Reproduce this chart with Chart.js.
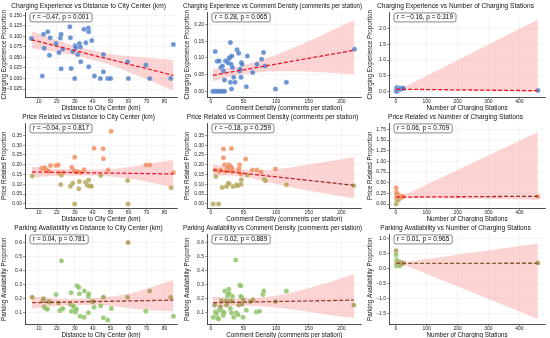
<!DOCTYPE html>
<html>
<head>
<meta charset="utf-8">
<script src="https://cdn.jsdelivr.net/npm/chart.js@4.4.1/dist/chart.umd.min.js"></script>
<style>
  html, body { margin: 0; padding: 0; background: #fff; }
  #grid { display: grid; grid-template-columns: 183px 183px 184px; grid-template-rows: 111px 111px 116px; width: 550px; height: 338px; }
  .cell canvas { display: block; }
</style>
</head>
<body>
<div id="grid">
  <div class="cell"><canvas id="c11" width="183" height="111"></canvas></div>
  <div class="cell"><canvas id="c12" width="183" height="111"></canvas></div>
  <div class="cell"><canvas id="c13" width="184" height="111"></canvas></div>
  <div class="cell"><canvas id="c21" width="183" height="111"></canvas></div>
  <div class="cell"><canvas id="c22" width="183" height="111"></canvas></div>
  <div class="cell"><canvas id="c23" width="184" height="111"></canvas></div>
  <div class="cell"><canvas id="c31" width="183" height="116"></canvas></div>
  <div class="cell"><canvas id="c32" width="183" height="116"></canvas></div>
  <div class="cell"><canvas id="c33" width="184" height="116"></canvas></div>
</div>
<script>
// ---- data ----
// Row 1: Charging Experience
const expDistX = [5.9, 11.9, 12.6, 13.0, 15.0, 16.3, 15.9, 19.6, 21.3, 22.4, 22.0, 22.4, 23.4, 27.3, 27.6, 28.0, 28.9, 30.2, 30.6, 30.0, 31.7, 32.6, 33.2, 33.4, 35.2, 36.2, 37.6, 37.8, 37.8, 39.5, 41.0, 44.3, 46.0, 46.0, 48.4, 50.0, 59.5, 59.9, 69.7, 71.8, 83.5, 85.0];
const expDistY = [0.095, 0.006, 0.105, 0.072, 0.111, 0.097, 0.055, 0.083, 0.062, 0.105, 0.096, 0.023, 0.070, 0.123, 0.097, 0.024, 0.064, 0.078, 0.073, 0.000, 0.057, 0.083, 0.075, 0.040, 0.117, 0.085, 0.120, 0.111, 0.028, 0.090, 0.006, 0.000, 0.057, 0.016, 0.000, 0.000, 0.040, 0.000, 0.032, 0.000, 0.000, 0.081];
const expDistFitX = [5.9, 85];
const expDistFitY = [0.092, 0.0075];
const expDistBandX = [6, 20, 35, 50, 65, 85];
const expDistBandHi = [0.113, 0.091, 0.072, 0.058, 0.051, 0.044];
const expDistBandLo = [0.071, 0.063, 0.050, 0.032, 0.007, -0.029];

const expDensX = [3, 5, 7, 9, 11, 13, 15, 18, 21, 6.6, 9.6, 12.7, 15.2, 17.8, 19.3, 20.8, 22.3, 24.4, 26.4, 27.9, 28.9, 29.9, 31, 32, 33, 35, 29.9, 37, 31.5, 40, 42.6, 44, 44.7, 46, 46.7, 47.7, 54.3, 55.8, 64, 70.6, 77.7, 80.7, 83.2, 99, 115.7, 220];
const expDensY = [0, 0, 0, 0, 0, 0, 0, 0, 0, 0.119, 0.090, 0.091, 0.071, 0.076, 0.061, 0.034, 0.091, 0.090, 0.085, 0.098, 0.101, 0.146, 0.081, 0.106, 0.071, 0.042, 0.027, 0.027, 0.007, 0.124, 0.114, 0.061, 0.066, 0.042, 0.086, 0.081, 0.014, 0.106, 0.056, 0.081, 0.096, 0.116, 0.076, 0.007, 0.027, 0.126];
const expDensFitX = [3, 220];
const expDensFitY = [0.048, 0.123];
const expDensBandX = [3, 40, 80, 120, 170, 220];
const expDensBandHi = [0.068, 0.073, 0.095, 0.125, 0.168, 0.213];
const expDensBandLo = [0.030, 0.049, 0.058, 0.060, 0.057, 0.051];

const expStatX = [1, 2, 2, 3, 4, 5, 5, 6, 8, 10, 12, 15, 18, 20, 22, 25, 460];
const expStatY = [0.0, 0.10, 0.05, 0.12, 0.0, 0.08, 0.03, 0.11, 0.06, 0.09, 0.10, 0.07, 0.11, 0.08, 0.10, 0.09, 0.03];
const expStatFitX = [1, 460];
const expStatFitY = [0.068, 0.022];
const expStatBandX = [1, 25, 460];
const expStatBandHi = [0.10, 0.12, 2.29];
const expStatBandLo = [0.04, 0.05, -0.01];

// Row 2: Price Related
const priceDistX = [6.3, 11.5, 12.6, 13.3, 14.1, 14.8, 15.6, 16.5, 19.6, 20.8, 21.1, 22.2, 22.6, 23.5, 27.6, 28.4, 28.9, 29.5, 30.0, 30.0, 30.8, 31.6, 32.3, 32.6, 33.5, 35.2, 36.0, 37.0, 37.8, 38.2, 39.3, 40.8, 44.5, 45.8, 46.0, 48.6, 50.3, 59.5, 59.7, 69.7, 71.8, 83.7, 85.0];
const priceDistY = [0.143, 0.182, 0.179, 0.184, 0.175, 0.170, 0.165, 0.196, 0.196, 0.199, 0.158, 0.099, 0.148, 0.160, 0.090, 0.187, 0.105, 0.170, 0.238, 0.000, 0.162, 0.165, 0.077, 0.114, 0.160, 0.175, 0.110, 0.095, 0.122, 0.092, 0.090, 0.284, 0.145, 0.281, 0.230, 0.173, 0.371, 0.119, 0.000, 0.199, 0.199, 0.083, 0.160];
const priceDistFitX = [6.3, 85];
const priceDistFitY = [0.163, 0.153];
const priceDistBandX = [6, 20, 35, 50, 65, 85];
const priceDistBandHi = [0.190, 0.178, 0.174, 0.178, 0.195, 0.226];
const priceDistBandLo = [0.135, 0.144, 0.145, 0.140, 0.122, 0.085];

const priceDensX = [3.5, 11.7, 6.6, 7.6, 12.7, 15.2, 17.3, 19.3, 19.3, 20.8, 21.8, 23.9, 26.4, 27.9, 27.0, 29.0, 30.5, 31.5, 31.0, 32.5, 33.0, 34.0, 39.0, 41.0, 44.0, 45.7, 46.7, 46.0, 53.3, 55.8, 63.5, 70.6, 77.0, 81.7, 83.8, 99.0, 115.7, 219.0, 42.0, 43.0, 28.0, 25.0];
const priceDensY = [0.000, 0.000, 0.173, 0.140, 0.165, 0.173, 0.084, 0.280, 0.236, 0.200, 0.165, 0.089, 0.106, 0.103, 0.200, 0.195, 0.190, 0.283, 0.173, 0.181, 0.165, 0.089, 0.098, 0.093, 0.200, 0.153, 0.123, 0.100, 0.229, 0.148, 0.173, 0.173, 0.163, 0.126, 0.118, 0.178, 0.098, 0.093, 0.165, 0.180, 0.170, 0.185];
const priceDensFitX = [3.5, 219];
const priceDensFitY = [0.173, 0.095];
const priceDensBandX = [3, 40, 80, 130, 175, 220];
const priceDensBandHi = [0.203, 0.178, 0.172, 0.190, 0.215, 0.240];
const priceDensBandLo = [0.143, 0.143, 0.118, 0.080, 0.053, 0.027];

const priceStatX = [1, 1, 2, 2, 3, 3, 4, 5, 6, 7, 8, 10, 12, 15, 18, 20, 24, 460];
const priceStatY = [0.0, 0.38, 0.15, 0.28, 0.10, 0.20, 0.24, 0.17, 0.12, 0.18, 0.09, 0.16, 0.20, 0.14, 0.17, 0.16, 0.18, 0.175];
const priceStatFitX = [1, 460];
const priceStatFitY = [0.162, 0.182];
const priceStatBandX = [1, 25, 460];
const priceStatBandHi = [0.20, 0.20, 1.69];
const priceStatBandLo = [0.12, 0.14, 0.10];

// Row 3: Parking Availability
const parkDistX = [6.3, 12.2, 12.6, 13.0, 13.7, 14.8, 16.3, 15.5, 19.6, 21.1, 21.7, 22.6, 22.6, 23.4, 27.6, 28.0, 28.2, 28.9, 29.5, 30.0, 30.4, 31.0, 31.3, 32.3, 32.6, 33.0, 35.2, 35.4, 37.6, 37.8, 37.6, 39.3, 40.3, 40.8, 44.5, 46.0, 46.0, 48.4, 50.4, 59.7, 59.5, 69.6, 71.8, 83.5, 85.0];
const parkDistY = [0.210, 0.185, 0.200, 0.143, 0.130, 0.125, 0.175, 0.180, 0.230, 0.170, 0.115, 0.470, 0.125, 0.130, 0.160, 0.243, 0.110, 0.150, 0.145, 0.118, 0.105, 0.125, 0.293, 0.280, 0.235, 0.075, 0.068, 0.255, 0.218, 0.235, 0.100, 0.180, 0.180, 0.140, 0.150, 0.210, 0.065, 0.048, 0.130, 0.600, 0.210, 0.110, 0.255, 0.210, 0.075];
const parkDistFitX = [6.3, 85];
const parkDistFitY = [0.172, 0.190];
const parkDistBandX = [6, 20, 35, 50, 65, 85];
const parkDistBandHi = [0.215, 0.200, 0.200, 0.215, 0.250, 0.335];
const parkDistBandLo = [0.128, 0.148, 0.155, 0.148, 0.125, 0.110];

const parkDensX = [3.5, 5.6, 6.6, 8.6, 10, 11.7, 12.7, 14.7, 16.2, 17.8, 18.8, 20.3, 21.3, 22.8, 23.9, 25.4, 26.4, 27.4, 27.9, 28.9, 29.9, 31.5, 32, 33, 35, 38, 39, 41.6, 42.6, 44, 45.7, 45.7, 46.7, 47.7, 49.2, 50, 54.3, 60.4, 64.5, 69.5, 74.6, 79.7, 81, 99, 115.7, 219];
const parkDensY = [0.068, 0.155, 0.105, 0.093, 0.063, 0.055, 0.118, 0.143, 0.185, 0.110, 0.080, 0.100, 0.255, 0.185, 0.155, 0.218, 0.230, 0.268, 0.238, 0.180, 0.130, 0.100, 0.185, 0.218, 0.068, 0.475, 0.100, 0.085, 0.155, 0.298, 0.293, 0.218, 0.210, 0.160, 0.068, 0.193, 0.118, 0.180, 0.193, 0.105, 0.110, 0.230, 0.255, 0.180, 0.255, 0.155];
const parkDensFitX = [3.5, 219];
const parkDensFitY = [0.172, 0.190];
const parkDensBandX = [3, 40, 80, 130, 175, 220];
const parkDensBandHi = [0.215, 0.200, 0.210, 0.250, 0.310, 0.375];
const parkDensBandLo = [0.135, 0.150, 0.145, 0.120, 0.090, 0.062];

const parkStatX = [1, 1, 2, 3, 3, 4, 5, 6, 8, 10, 12, 15, 18, 20, 25, 460];
const parkStatY = [0.60, 0.47, 0.10, 0.30, 0.20, 0.15, 0.25, 0.12, 0.18, 0.20, 0.10, 0.22, 0.15, 0.17, 0.19, 0.19];
const parkStatFitX = [1, 460];
const parkStatFitY = [0.180, 0.185];
const parkStatBandX = [1, 25, 460];
const parkStatBandHi = [0.25, 0.22, 0.85];
const parkStatBandLo = [0.12, 0.14, -1.68];

// tick labels
const distTicks = [10, 20, 30, 40, 50, 60, 70, 80];
const densTicks = [0, 50, 100, 150, 200];
const statTicks = [0, 100, 200, 300, 400];
const expDistYTicks = [-0.025, 0, 0.025, 0.05, 0.075, 0.1, 0.125, 0.15];
const expDensYTicks = [0, 0.05, 0.1, 0.15, 0.2];
const expStatYTicks = [0, 0.5, 1, 1.5, 2];
const priceYTicks = [0, 0.05, 0.1, 0.15, 0.2, 0.25, 0.3, 0.35];
const priceStatYTicks = [0, 0.25, 0.5, 0.75, 1, 1.25, 1.5, 1.75];
const parkYTicks = [0.1, 0.2, 0.3, 0.4, 0.5, 0.6];
const parkStatYTicks = [-1.5, -1, -0.5, 0, 0.5, 1];

const FONT = '"Liberation Sans", Arial, sans-serif';
const BLUE = 'rgba(72,122,200,0.8)';
const ORANGE = 'rgba(240,132,82,0.78)';
const OLIVE = 'rgba(178,162,82,0.82)';
const GREEN = 'rgba(138,192,98,0.82)';
const OLIVE_BROWN = 'rgba(168,150,84,0.85)';

function xy(xs, ys) {
    return xs.map((x, i) => ({ x: x, y: ys[i] }));
}

function fmt(v, dec) {
    return v.toFixed(dec).replace('-', '\u2212');
}

function bandAt(xs, ys, x) {
    for (let i = 0; i < xs.length - 1; i++) {
        if (x <= xs[i + 1]) {
            const t = (x - xs[i]) / (xs[i + 1] - xs[i]);
            return ys[i] + t * (ys[i + 1] - ys[i]);
        }
    }
    return ys[ys.length - 1];
}

// text box with r and p
const statBox = {
    id: 'statBox',
    afterDraw(chart, args, opts) {
        const ctx = chart.ctx, a = chart.chartArea;
        ctx.save();
        ctx.font = '6.4px ' + FONT;
        const w = ctx.measureText(opts.text).width + 6;
        const x = a.left + 5, y = a.top + 0.5, h = 9;
        ctx.beginPath();
        ctx.roundRect(x, y, w, h, 2);
        ctx.fillStyle = 'rgba(255,255,255,0.85)';
        ctx.fill();
        ctx.lineWidth = 0.7;
        ctx.strokeStyle = '#555';
        ctx.stroke();
        ctx.fillStyle = '#000';
        ctx.textBaseline = 'middle';
        ctx.fillText(opts.text, x + 3, y + h / 2 + 0.3);
        ctx.restore();
    }
};

function makePanel(id, p) {
    const ctx = document.getElementById(id).getContext('2d');
    let lineColor = p.lineColor;
    if (p.lineColor2) {
        lineColor = function(c) {
            const a = c.chart.chartArea;
            if (!a) return p.lineColor;
            const g = c.chart.ctx.createLinearGradient(a.left, 0, a.right, 0);
            g.addColorStop(0, p.lineColor);
            g.addColorStop(0.35, p.lineColor);
            g.addColorStop(1, p.lineColor2);
            return g;
        };
    }
    new Chart(ctx, {
        type: 'scatter',
        data: {
            datasets: [
                {
                    type: 'line',
                    data: xy(p.fitX, p.fitY),
                    borderColor: lineColor,
                    borderWidth: 1.3,
                    borderDash: [4, 2],
                    pointRadius: 0,
                    fill: false,
                    order: 0
                },
                {
                    data: xy(p.x, p.y),
                    backgroundColor: c => p.color(c.raw),
                    borderColor: 'rgba(255,255,255,0.5)',
                    borderWidth: 0.4,
                    pointRadius: 2.5,
                    order: 1
                },
                {
                    type: 'line',
                    data: xy(p.bandX, p.bandHi),
                    borderColor: 'transparent',
                    backgroundColor: 'rgba(245,120,120,0.32)',
                    pointRadius: 0,
                    tension: p.tension,
                    fill: '+1',
                    order: 2
                },
                {
                    type: 'line',
                    data: xy(p.bandX, p.bandLo),
                    borderColor: 'transparent',
                    pointRadius: 0,
                    tension: p.tension,
                    fill: false,
                    order: 3
                }
            ]
        },
        options: {
            responsive: false,
            animation: false,
            layout: { padding: { left: 0, right: p.padR, top: 0, bottom: 0 } },
            plugins: {
                legend: { display: false },
                tooltip: { enabled: false },
                title: {
                    display: true,
                    text: p.title,
                    color: '#111',
                    font: { size: 6.6, family: FONT, weight: 'normal', lineHeight: 1.2 },
                    padding: { top: 2, bottom: 2.5 }
                },
                statBox: { text: p.stat }
            },
            scales: {
                x: {
                    type: 'linear',
                    min: p.xMin,
                    max: p.xMax,
                    afterBuildTicks: s => { s.ticks = p.xTicks.map(v => ({ value: v })); },
                    afterFit: s => { s.height = 14; },
                    ticks: {
                        autoSkip: false,
                        maxRotation: 0,
                        padding: 0.3,
                        color: '#222',
                        font: { size: 5.0, family: FONT, lineHeight: 1 },
                        callback: v => fmt(v, 0)
                    },
                    grid: { color: 'rgba(0,0,0,0.08)', lineWidth: 0.5, tickColor: '#333', tickLength: 2 },
                    border: { display: true, color: '#222', width: 0.8 },
                    title: {
                        display: true,
                        text: p.xLabel,
                        color: '#111',
                        font: { size: 6.3, family: FONT, lineHeight: 1 },
                        padding: { top: 0, bottom: 0 }
                    }
                },
                y: {
                    min: p.yMin,
                    max: p.yMax,
                    afterBuildTicks: s => { s.ticks = p.yTicks.map(v => ({ value: v })); },
                    afterFit: s => { s.width = p.yW; },
                    ticks: {
                        autoSkip: false,
                        padding: 1,
                        color: '#222',
                        font: { size: 5.0, family: FONT },
                        callback: v => fmt(v, p.yDec)
                    },
                    grid: { color: 'rgba(0,0,0,0.08)', lineWidth: 0.5, tickColor: '#333', tickLength: 2 },
                    border: { display: true, color: '#222', width: 0.8 },
                    title: {
                        display: true,
                        text: p.yLabel,
                        color: '#111',
                        font: { size: 6.3, family: FONT, lineHeight: 1 },
                        padding: { top: 1, bottom: 1 }
                    }
                }
            }
        },
        plugins: [statBox]
    });
}

const blueFn = () => BLUE;
const priceFn = pt => pt.y < 0.15 ? OLIVE : ORANGE;
function parkFn(bx, lo, hi) {
    return pt => {
        const l = bandAt(bx, lo, pt.x), h = bandAt(bx, hi, pt.x);
        return (pt.y >= l && pt.y <= h) || pt.y > 0.55 ? OLIVE_BROWN : GREEN;
    };
}

const DIST = { xTicks: distTicks, xMin: 2.3, xMax: 87, xLabel: 'Distance to City Center (km)', yW: 25, padR: 6, tension: 0.3 };
const DENS = { xTicks: densTicks, xMin: -6, xMax: 231, xLabel: 'Comment Density (comments per station)', yW: 24, padR: 4, tension: 0.3 };
const STAT = { xTicks: statTicks, xMin: -22, xMax: 483, xLabel: 'Number of Charging Stations', yW: 23, padR: 5, tension: 0 };

makePanel('c11', Object.assign({}, DIST, {
    title: 'Charging Experience vs Distance to City Center (km)', yLabel: 'Charging Experience Proportion',
    stat: 'r = \u22120.47, p = 0.001', x: expDistX, y: expDistY, fitX: expDistFitX, fitY: expDistFitY,
    bandX: expDistBandX, bandHi: expDistBandHi, bandLo: expDistBandLo,
    yTicks: expDistYTicks, yDec: 3, yMin: -0.044, yMax: 0.157, color: blueFn, lineColor: '#e5192b'
}));
makePanel('c12', Object.assign({}, DENS, {
    title: 'Charging Experience vs Comment Density (comments per station)', yLabel: 'Charging Experience Proportion',
    stat: 'r = 0.28, p = 0.065', x: expDensX, y: expDensY, fitX: expDensFitX, fitY: expDensFitY,
    bandX: expDensBandX, bandHi: expDensBandHi, bandLo: expDensBandLo,
    yTicks: expDensYTicks, yDec: 2, yMin: -0.017, yMax: 0.236, color: blueFn, lineColor: '#e5192b'
}));
makePanel('c13', Object.assign({}, STAT, {
    title: 'Charging Experience vs Number of Charging Stations', yLabel: 'Charging Experience Proportion',
    stat: 'r = \u22120.16, p = 0.319', x: expStatX, y: expStatY, fitX: expStatFitX, fitY: expStatFitY,
    bandX: expStatBandX, bandHi: expStatBandHi, bandLo: expStatBandLo,
    yTicks: expStatYTicks, yDec: 1, yMin: -0.18, yMax: 2.52, color: blueFn, lineColor: '#e5192b'
}));

makePanel('c21', Object.assign({}, DIST, {
    title: 'Price Related vs Distance to City Center (km)', yLabel: 'Price Related Proportion',
    stat: 'r = \u22120.04, p = 0.817', x: priceDistX, y: priceDistY, fitX: priceDistFitX, fitY: priceDistFitY,
    bandX: priceDistBandX, bandHi: priceDistBandHi, bandLo: priceDistBandLo,
    yTicks: priceYTicks, yDec: 2, yMin: -0.021, yMax: 0.411, color: priceFn, lineColor: '#e5192b'
}));
makePanel('c22', Object.assign({}, DENS, {
    title: 'Price Related vs Comment Density (comments per station)', yLabel: 'Price Related Proportion',
    stat: 'r = \u22120.18, p = 0.259', x: priceDensX, y: priceDensY, fitX: priceDensFitX, fitY: priceDensFitY,
    bandX: priceDensBandX, bandHi: priceDensBandHi, bandLo: priceDensBandLo,
    yTicks: priceYTicks, yDec: 2, yMin: -0.021, yMax: 0.411, color: priceFn, lineColor: '#e5192b', lineColor2: '#7a3020'
}));
makePanel('c23', Object.assign({}, STAT, {
    title: 'Price Related vs Number of Charging Stations', yLabel: 'Price Related Proportion',
    stat: 'r = 0.06, p = 0.709', x: priceStatX, y: priceStatY, fitX: priceStatFitX, fitY: priceStatFitY,
    bandX: priceStatBandX, bandHi: priceStatBandHi, bandLo: priceStatBandLo,
    yTicks: priceStatYTicks, yDec: 2, yMin: -0.093, yMax: 1.89, color: priceFn, lineColor: '#e5192b', lineColor2: '#7a3020'
}));

makePanel('c31', Object.assign({}, DIST, {
    title: 'Parking Availability vs Distance to City Center (km)', yLabel: 'Parking Availability Proportion',
    stat: 'r = 0.04, p = 0.781', x: parkDistX, y: parkDistY, fitX: parkDistFitX, fitY: parkDistFitY,
    bandX: parkDistBandX, bandHi: parkDistBandHi, bandLo: parkDistBandLo,
    yTicks: parkYTicks, yDec: 1, yMin: 0.02, yMax: 0.658, color: parkFn(parkDistBandX, parkDistBandLo, parkDistBandHi), lineColor: '#9a3a26'
}));
makePanel('c32', Object.assign({}, DENS, {
    title: 'Parking Availability vs Comment Density (comments per station)', yLabel: 'Parking Availability Proportion',
    stat: 'r = 0.02, p = 0.889', x: parkDensX, y: parkDensY, fitX: parkDensFitX, fitY: parkDensFitY,
    bandX: parkDensBandX, bandHi: parkDensBandHi, bandLo: parkDensBandLo,
    yTicks: parkYTicks, yDec: 1, yMin: 0.02, yMax: 0.658, color: parkFn(parkDensBandX, parkDensBandLo, parkDensBandHi), lineColor: '#9a3a26'
}));
makePanel('c33', Object.assign({}, STAT, {
    title: 'Parking Availability vs Number of Charging Stations', yLabel: 'Parking Availability Proportion',
    stat: 'r = 0.01, p = 0.965', x: parkStatX, y: parkStatY, fitX: parkStatFitX, fitY: parkStatFitY,
    bandX: parkStatBandX, bandHi: parkStatBandHi, bandLo: parkStatBandLo,
    yTicks: parkStatYTicks, yDec: 1, yMin: -1.85, yMax: 1.15, color: parkFn(parkStatBandX, parkStatBandLo, parkStatBandHi), lineColor: '#8a5a2a'
}));
</script>
</body>
</html>
